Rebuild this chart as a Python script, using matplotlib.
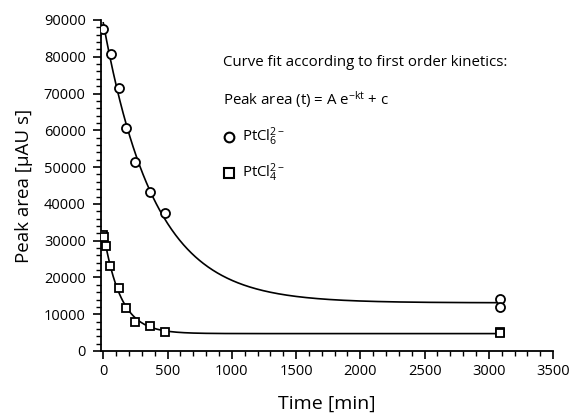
import numpy as np
import matplotlib
matplotlib.use("Agg")
import matplotlib.pyplot as plt
from matplotlib.ticker import MultipleLocator

plt.rcParams["font.family"] = ["Open Sans", "DejaVu Sans"]
plt.rcParams["mathtext.fontset"] = "custom"
plt.rcParams["mathtext.rm"] = "Open Sans"
plt.rcParams["mathtext.it"] = "Open Sans"

t_pt6 = [0, 60, 120, 180, 245, 360, 480, 3090, 3090]
area_pt6 = [87500, 80700, 71500, 60600, 51500, 43100, 37600, 14200, 11900]
t_pt4 = [0, 8, 25, 55, 120, 180, 245, 360, 480, 3090, 3090]
area_pt4 = [31600, 31000, 28500, 23000, 17000, 11700, 7800, 6700, 5200, 5300, 4900]


def fit_first_order(t, y):
    # y = A exp(-k t) + c, grid over k, linear least squares for A and c
    t = np.asarray(t, float)
    y = np.asarray(y, float)
    best = None
    for k in np.logspace(-4, -1, 3000):
        M = np.column_stack([np.exp(-k * t), np.ones_like(t)])
        coef, *_ = np.linalg.lstsq(M, y, rcond=None)
        err = np.sum((M @ coef - y) ** 2)
        if best is None or err < best[0]:
            best = (err, coef[0], k, coef[1])
    return best[1:]


fig = plt.figure(figsize=(5.76, 4.18), dpi=100)
ax = fig.add_axes([0.1753, 0.1603, 0.785, 0.7919])

tt = np.linspace(0, 3090, 600)
for t, y, mk in [(t_pt6, area_pt6, "o"), (t_pt4, area_pt4, "s")]:
    A, k, c = fit_first_order(t, y)
    ax.plot(tt, A * np.exp(-k * tt) + c, color="black", lw=1.2, zorder=2)
    ax.plot(t, y, linestyle="none", marker=mk, ms=6.5 if mk == "o" else 6,
            mfc="white", mec="black", mew=1.3, zorder=3)

ax.set_xlim(-18, 3500)
ax.set_ylim(0, 90000)
ax.xaxis.set_major_locator(MultipleLocator(500))
ax.xaxis.set_minor_locator(MultipleLocator(100))
ax.yaxis.set_major_locator(MultipleLocator(10000))
ax.yaxis.set_minor_locator(MultipleLocator(2000))
for s in ["top", "right"]:
    ax.spines[s].set_visible(False)
for s in ["left", "bottom"]:
    ax.spines[s].set_linewidth(1.3)
ax.tick_params(which="major", direction="out", length=6, width=1.2, labelsize=10.5)
ax.tick_params(which="minor", direction="out", length=3.5, width=1.0)
ax.tick_params(axis="y", which="major", pad=5)
ax.set_xlabel("Time [min]", fontsize=14, labelpad=11)
ax.set_ylabel("Peak area [\u03bcAU s]", fontsize=13.5, labelpad=8)

fx = lambda px: px / 576
fy = lambda py: 1 - py / 418
fs = 10.8
fig.text(fx(223), fy(63), "Curve fit according to first order kinetics:", fontsize=fs, va="center")
fig.text(fx(223), fy(100), r"Peak area (t) = A e$^{\mathregular{-kt}}$ + c", fontsize=fs, va="center")
fig.text(fx(242), fy(137), r"PtCl$_{\mathregular{6}}^{\mathregular{2-}}$", fontsize=fs, va="center")
fig.text(fx(242), fy(173), r"PtCl$_{\mathregular{4}}^{\mathregular{2-}}$", fontsize=fs, va="center")
fig.lines.append(plt.Line2D([fx(229)], [fy(137)], transform=fig.transFigure, marker="o",
                            ms=7, mfc="white", mec="black", mew=1.5))
fig.lines.append(plt.Line2D([fx(229)], [fy(173)], transform=fig.transFigure, marker="s",
                            ms=6.5, mfc="white", mec="black", mew=1.5))

fig.savefig("out.png", dpi=100)
